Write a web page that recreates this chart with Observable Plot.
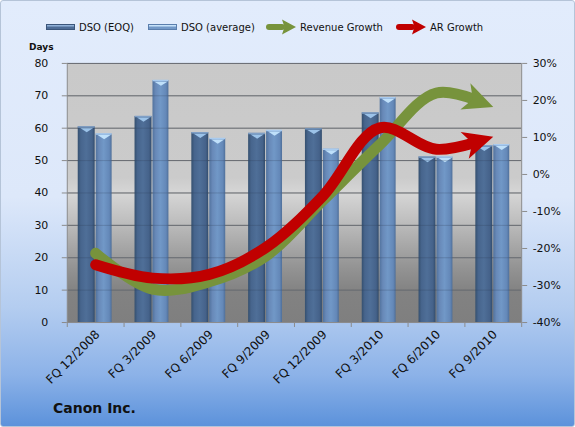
<!DOCTYPE html>
<html>
<head>
<meta charset="utf-8">
<script src="https://cdn.jsdelivr.net/npm/d3@7"></script>
<script src="https://cdn.jsdelivr.net/npm/@observablehq/plot@0.6"></script>
<style>
  html, body { margin: 0; padding: 0; }
  body { width: 575px; height: 427px; overflow: hidden; font-family: "DejaVu Sans", sans-serif; }
  #card {
    position: absolute; left: 0; top: 0; width: 573px; height: 425px;
    border: 1px solid #b5c4d8; border-radius: 3px; overflow: hidden;
    background: linear-gradient(to bottom, #e2ecfc 0%, #dde8fa 46%, #b4cdf0 72%, #8cb2e8 88%, #5c92db 100%);
  }
  .item { position: absolute; top: 17px; height: 18px; display: flex; align-items: center; font-size: 10px; color: #111; white-space: nowrap; }
  .item svg { margin-right: 4px; }
  #days { position: absolute; left: 28px; top: 41px; font: bold 9px "DejaVu Sans", sans-serif; color: #111; }
  #chart { position: absolute; left: 0; top: 41px; }
  #caption { position: absolute; left: 52px; top: 399px; font: bold 14px "DejaVu Sans", sans-serif; color: #111; }
</style>
</head>
<body>
<div id="card">
  <div class="item" style="left:45px">
    <svg width="29" height="8"><rect x="0.5" y="1.5" width="28" height="5" fill="#4d6c96" stroke="#3a557a"/><rect x="1" y="2" width="27" height="1.5" fill="#8fb0d8"/></svg>DSO (EOQ)
  </div>
  <div class="item" style="left:147px">
    <svg width="29" height="8"><rect x="0.5" y="1.5" width="28" height="5" fill="#7399c8" stroke="#5a7ead"/><rect x="1" y="2" width="27" height="1.5" fill="#c6e2fa"/></svg>DSO (average)
  </div>
  <div class="item" style="left:265px">
    <svg width="30" height="16"><rect x="0" y="5" width="19" height="6" rx="3" fill="#77933c"/><path d="M16,0.5 L30,8 L16,15.5 L18.5,8 Z" fill="#77933c"/></svg>Revenue Growth
  </div>
  <div class="item" style="left:395px">
    <svg width="30" height="16"><rect x="0" y="5" width="19" height="6" rx="3" fill="#c00000"/><path d="M16,0.5 L30,8 L16,15.5 L18.5,8 Z" fill="#c00000"/></svg>AR Growth
  </div>
  <div id="days">Days</div>
  <div id="chart"></div>
  <div id="caption">Canon Inc.</div>
</div>
<script>
// Canon Inc. — days sales outstanding vs. revenue and receivables growth
const quarters = ["FQ 12/2008", "FQ 3/2009", "FQ 6/2009", "FQ 9/2009", "FQ 12/2009", "FQ 3/2010", "FQ 6/2010", "FQ 9/2010"];
const dsoEOQ = [60.4, 63.6, 58.6, 58.4, 59.8, 64.7, 51.1, 54.6];
const dsoAverage = [58.2, 74.7, 56.8, 59.3, 53.5, 69.4, 51.1, 54.9];
const revenueGrowth = [-21.3, -31.0, -29.0, -22.0, -7.0, 8.0, 22.0, 18.2];
const arGrowth = [-24.4, -28.0, -27.0, -19.7, -5.8, 12.6, 6.8, 10.2];
const dayTicks = [0, 10, 20, 30, 40, 50, 60, 70, 80];
const pctTicks = [-40, -30, -20, -10, 0, 10, 20, 30];

// The growth series share the plot with days, mapped onto the right-hand percent axis
const dayMax = 80, pctMin = -40, pctMax = 30;
const pctToDays = p => (p - pctMin) / (pctMax - pctMin) * dayMax;
const daysToPct = d => Math.round(d / dayMax * (pctMax - pctMin) + pctMin);

const rows = quarters.map((quarter, i) => ({
  quarter, eoq: dsoEOQ[i], avg: dsoAverage[i], rev: revenueGrowth[i], ar: arGrowth[i]
}));

// Flat, downward-pointing bevel drawn on the top of each column
const capSymbol = {
  draw(ctx, size) {
    const r = Math.sqrt(size / Math.PI);
    ctx.moveTo(-r, -0.3 * r);
    ctx.lineTo(r, -0.3 * r);
    ctx.lineTo(0, 0.35 * r);
    ctx.closePath();
  }
};

const gridColor = "#7a7a7a";
const axisColor = "#8c8c8c";

const chart = Plot.plot({
  width: 575,
  height: 362,
  marginTop: 21,
  marginBottom: 81,
  marginLeft: 66,
  marginRight: 53,
  style: { background: "transparent", fontFamily: "DejaVu Sans, sans-serif", color: "#111" },
  x: { type: "band", domain: quarters, padding: 0 },
  y: { domain: [0, dayMax] },
  marks: [
    Plot.frame({ fill: "url(#plotBg)", stroke: null }),
    Plot.ruleY(dayTicks.slice(1), { stroke: gridColor, strokeWidth: 1 }),
    Plot.barY(rows, { x: "quarter", y: "eoq", fill: "url(#barEOQ)", insetLeft: 11, insetRight: 29 }),
    Plot.barY(rows, { x: "quarter", y: "avg", fill: "url(#barAvg)", insetLeft: 29, insetRight: 12 }),
    Plot.tickY(rows, { x: "quarter", y: "eoq", stroke: "#7f9fc6", strokeWidth: 1.5, insetLeft: 11, insetRight: 29 }),
    Plot.tickY(rows, { x: "quarter", y: "avg", stroke: "#a9cbef", strokeWidth: 1.5, insetLeft: 29, insetRight: 12 }),
    Plot.dot(rows, { x: "quarter", y: "eoq", symbol: capSymbol, r: 6.5, fill: "#9cc3e9", dx: -9, dy: 3 }),
    Plot.dot(rows, { x: "quarter", y: "avg", symbol: capSymbol, r: 6.5, fill: "#bfe0fa", dx: 8.5, dy: 3 }),
    Plot.ruleY(dayTicks.slice(1), { stroke: "#2b3d55", strokeOpacity: 0.25, strokeWidth: 1 }),
    Plot.ruleX([quarters[0]], { x: d => d, dx: -28.5, stroke: axisColor }),
    Plot.ruleX([quarters[quarters.length - 1]], { x: d => d, dx: 28.5, stroke: axisColor }),
    Plot.ruleY([0], { stroke: axisColor }),
    Plot.ruleX(quarters, { x: d => d, dx: -28.5, insetTop: 260, insetBottom: -5, stroke: axisColor }),
    Plot.ruleX([quarters[quarters.length - 1]], { x: d => d, dx: 28.5, insetTop: 260, insetBottom: -5, stroke: axisColor }),
    Plot.line(rows, { x: "quarter", y: d => pctToDays(d.rev), stroke: "#77933c", strokeWidth: 11, curve: "catmull-rom", strokeLinecap: "round" }),
    Plot.line(rows, { x: "quarter", y: d => pctToDays(d.ar), stroke: "#c00000", strokeWidth: 11, curve: "catmull-rom", strokeLinecap: "round" }),
    Plot.axisY(dayTicks, { anchor: "left", tickSize: 5, tickPadding: 14, fontSize: 11, stroke: axisColor, label: null }),
    Plot.axisY(pctTicks.map(pctToDays), { anchor: "right", tickSize: 5, tickPadding: 6, fontSize: 11, stroke: axisColor, tickFormat: d => daysToPct(d) + "%", label: null }),
    Plot.axisX({ tickSize: 0, tickPadding: 10, tickRotate: -45, fontSize: 12, label: null, dx: 2 })
  ]
});

document.getElementById("chart").appendChild(chart);

// Gradients for the plot background and the columns
const svg = d3.select(chart);
const defs = svg.insert("defs", ":first-child");
function gradient(id, stops, vertical) {
  const g = defs.append("linearGradient").attr("id", id)
    .attr("x1", 0).attr("y1", 0).attr("x2", vertical ? 0 : 1).attr("y2", vertical ? 1 : 0);
  stops.forEach(([o, c]) => g.append("stop").attr("offset", o).attr("stop-color", c));
}
gradient("plotBg", [[0, "#c9c9c9"], [0.44, "#cbcbcb"], [0.5, "#d6d6d6"], [0.6, "#c0c0c0"], [0.78, "#959595"], [0.88, "#828282"], [1, "#7f7f7f"]], true);
gradient("barEOQ", [[0, "#35506f"], [0.18, "#47658d"], [0.5, "#4f6f98"], [0.85, "#45628a"], [1, "#324c6c"]], false);
gradient("barAvg", [[0, "#52739e"], [0.2, "#6889b8"], [0.5, "#7198c7"], [0.85, "#6488b8"], [1, "#4f6f99"]], false);

// Turn the end of each growth line into a stealth arrowhead following the curve
svg.selectAll('g[aria-label="line"]').each(function () {
  const g = d3.select(this);
  const color = g.attr("stroke");
  g.selectAll("path").each(function () {
    const L = this.getTotalLength();
    const head = 30, half = 14, notch = 8;
    const tip = this.getPointAtLength(L);
    const back = this.getPointAtLength(L - head);
    let ux = tip.x - back.x, uy = tip.y - back.y;
    const n = Math.hypot(ux, uy); ux /= n; uy /= n;
    const px = -uy, py = ux;
    const bx = tip.x - ux * head, by = tip.y - uy * head;
    const nx = tip.x - ux * (head - notch), ny = tip.y - uy * (head - notch);
    d3.select(this).attr("stroke-dasharray", `${L - head + notch + 2} ${L + 20}`);
    g.append("path")
      .attr("d", `M${tip.x},${tip.y}L${bx + px * half},${by + py * half}L${nx},${ny}L${bx - px * half},${by - py * half}Z`)
      .attr("fill", color).attr("stroke", "none");
  });
});
</script>
</body>
</html>
